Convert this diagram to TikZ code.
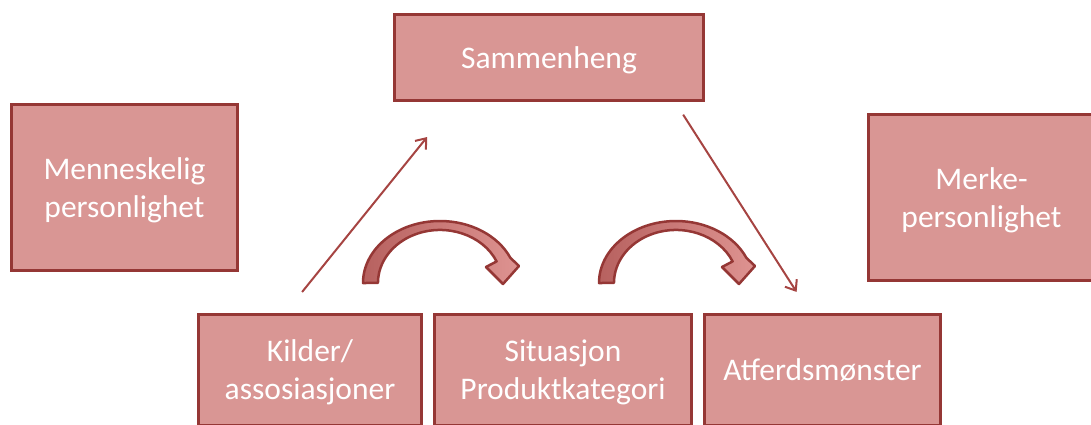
\documentclass[tikz,border=0pt]{standalone}
\usepackage{fontspec}
\setmainfont{Carlito}
\usetikzlibrary{arrows.meta}
\usetikzlibrary{calc}
\definecolor{boxfill}{HTML}{D99694}
\definecolor{boxline}{HTML}{953735}
\definecolor{linkline}{HTML}{A64442}
\definecolor{bendtail}{HTML}{B7615F}
\definecolor{bendhead}{HTML}{DE9391}
\tikzset{
	box/.style = {draw = boxline, line width = 3pt, fill = boxfill, text = white, align = center, inner sep = 0pt, text depth = 0pt, font = \fontsize{31.5}{38}\selectfont},
	link/.style = {draw = linkline, line width = 2pt, -{Straight Barb[length = 9pt, width = 14pt]}},
	bendarrow/.style = {draw = boxline, line width = 2.5pt, line join = round, left color = bendtail, right color = bendhead}
}

\begin{document}
\begin{tikzpicture}[x = 1pt, y = -1pt]
		\useasboundingbox (0, 0) rectangle (1091, 424);
		\clip (0, 0) rectangle (1091, 424);
		\node [box, minimum width = 309pt, minimum height = 86pt] (sammenheng) at (549, 57.5) {Sammenheng};
		\node [box, minimum width = 226pt, minimum height = 166pt] (menneskelig) at (124.5, 187.5) {Menneskelig\\personlighet};
		\node [box, minimum width = 226pt, minimum height = 166pt] (merke) at (981.5, 197.5) {Merke-\\personlighet};
		\node [box, minimum width = 223pt, minimum height = 111pt] (kilder) at (310, 370) {Kilder/\\assosiasjoner};
		\node [box, minimum width = 257pt, minimum height = 111pt] (situasjon) at (563, 370) {Situasjon\\Produktkategori};
		\node [box, minimum width = 236pt, minimum height = 111pt] (atferd) at (822.5, 370) {Atferdsmønster};
		\draw [link, shorten < = 27pt, shorten > = 45pt] ($(kilder.north west)!0.39!(kilder.north east)$) -- ($(sammenheng.south west)!0.2!(sammenheng.south east)$);
		\draw [link, shorten < = 15pt, shorten > = 25pt] ($(sammenheng.south west)!0.904!(sammenheng.south east)$) -- ($(atferd.north west)!0.448!(atferd.north east)$);
		% curved block arrows
		\foreach \dx in {0, 236}
			\path [bendarrow, xshift = \dx pt] (363, 283) arc [start angle = 180, end angle = 24, x radius = 77pt, y radius = 62pt] -- (519, 266) -- (503, 284) -- (486, 267) -- (496.6, 261.4) arc [start angle = 24, end angle = 180, x radius = 62pt, y radius = 53pt] -- cycle;
\end{tikzpicture}
\end{document}
